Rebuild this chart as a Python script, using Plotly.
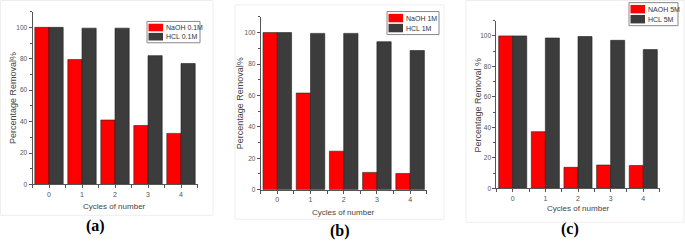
import plotly.graph_objects as go

W, H = 685, 246

cycles = [0, 1, 2, 3, 4]
naoh_01 = [100, 79.5, 41, 37.5, 32.5]
hcl_01 = [100, 99.5, 99.5, 82, 77]
naoh_1 = [100, 61.5, 24.5, 11, 10.3]
hcl_1 = [100, 99.5, 99.5, 94.2, 88.6]
naoh_5 = [100, 37.2, 13.8, 15.3, 15]
hcl_5 = [100, 98.6, 99.6, 97.1, 91]

names = [("NaOH 0.1M", "HCL 0.1M"), ("NaOH 1M", "HCL 1M"), ("NAOH 5M", "HCL 5M")]
ytitles = ["Percentage Removal%", "Percentage Removal%", "Percentage Removal %"]
xtitle = "Cycles of number"
panel_labels = ["(a)", "(b)", "(c)"]
yticks = [0, 20, 40, 60, 80, 100]

RED = "#ff0000"
DARK = "#3c3c3c"
FONT = "Liberation Sans, Arial, sans-serif"

# panel geometry in page pixels: (x_left, x_right, y_bottom, y_top)
geo = [(32.5, 197.5, 186.7, 11.8), (260.7, 426.7, 192.0, 17.1), (496.4, 659.6, 190.7, 20.9)]
legend_box = [(147, 200, 21.7, 43.3), (387, 439, 11.7, 35), (629, 678, 2.7, 26)]
panel_box = [(0.5, 213, 0.5, 218), (235, 444, 5, 222), (466, 684, 0.5, 225)]
label_pos = [(95, 229), (340, 234), (570, 232)]
xtitle_y = [209, 215, 211]
ytitle_x = [13, 240, 478]

fig = go.Figure()
data = [(naoh_01, hcl_01), (naoh_1, hcl_1), (naoh_5, hcl_5)]
shapes = []
anns = []


def px(x):
    return x / W


def py(y):
    return 1 - y / H


def note(text, x, y, size, color, family=FONT, xanchor="center", angle=0):
    anns.append(dict(text=text, x=px(x), y=py(y), xref="paper", yref="paper", xanchor=xanchor,
                     yanchor="middle", textangle=angle, showarrow=False,
                     font=dict(size=size, color=color, family=family)))


for i, ((n, h), (nm1, nm2)) in enumerate(zip(data, names)):
    sfx = "" if i == 0 else str(i + 1)
    fig.add_trace(go.Bar(x=cycles, y=n, name=nm1, marker=dict(color=RED, line=dict(color="#222", width=0.6)),
                         xaxis="x" + sfx, yaxis="y" + sfx, showlegend=False, offsetgroup="a"))
    fig.add_trace(go.Bar(x=cycles, y=h, name=nm2, marker=dict(color=DARK, line=dict(color="#222", width=0.6)),
                         xaxis="x" + sfx, yaxis="y" + sfx, showlegend=False, offsetgroup="b"))
    xl, xr, yb, yt = geo[i]
    ax = dict(domain=[px(xl), px(xr)], range=[-0.5, 4.5], anchor="y" + sfx, showline=True, linecolor="#555",
              linewidth=1, ticks="outside", ticklen=3, tickcolor="#555", tickvals=cycles,
              tickfont=dict(size=7, color="#555", family=FONT), showgrid=False, zeroline=False,
              minor=dict(tickvals=[-0.5, 0.5, 1.5, 2.5, 3.5, 4.5], ticks="outside", ticklen=3, tickcolor="#555"))
    ay = dict(domain=[py(yb), py(yt)], range=[0, 110], anchor="x" + sfx, showline=True, linecolor="#555",
              linewidth=1, ticks="outside", ticklen=3, tickcolor="#555", tickvals=yticks,
              tickfont=dict(size=6.5, color="#555", family=FONT), showgrid=False, zeroline=False,
              minor=dict(dtick=10, ticks="outside", ticklen=2, tickcolor="#555"))
    fig.layout["xaxis" + sfx] = ax
    fig.layout["yaxis" + sfx] = ay
    # axis titles and panel label
    note(ytitles[i], ytitle_x[i], (yb + yt) / 2, 9, "#444", angle=-90)
    note(xtitle, (xl + xr) / 2, xtitle_y[i], 8, "#444")
    note("<b>" + panel_labels[i] + "</b>", label_pos[i][0], label_pos[i][1], 16, "#000",
         family="Liberation Serif, Times New Roman, serif")
    # legend drawn manually, names/colours taken from the series
    lx0, lx1, ly0, ly1 = legend_box[i]
    shapes.append(dict(type="rect", xref="paper", yref="paper", x0=px(lx0), x1=px(lx1), y0=py(ly1), y1=py(ly0),
                       line=dict(color="#888", width=1), fillcolor="white"))
    hh = (ly1 - ly0 - 3) / 2
    for k, (col, nm) in enumerate([(RED, nm1), (DARK, nm2)]):
        y0 = ly0 + 1.5 + k * hh
        shapes.append(dict(type="rect", xref="paper", yref="paper", x0=px(lx0 + 1.5), x1=px(lx0 + 16),
                           y0=py(y0 + hh - 0.8), y1=py(y0 + 0.8), line=dict(width=0), fillcolor=col))
        note(nm, lx0 + 17, y0 + hh / 2, 7, "#333", xanchor="left")
    # faint panel frame
    bx0, bx1, by0, by1 = panel_box[i]
    shapes.append(dict(type="rect", xref="paper", yref="paper", x0=px(bx0), x1=px(bx1), y0=py(by1), y1=py(by0),
                       line=dict(color="#eeeeee", width=1), layer="below"))

fig.update_layout(width=W, height=H, margin=dict(l=0, r=0, t=0, b=0), paper_bgcolor="white",
                  plot_bgcolor="white", barmode="group", bargap=0.14, bargroupgap=0,
                  shapes=shapes, annotations=anns, font=dict(family=FONT), hovermode=False)
fig.write_html("out.html", config={"displayModeBar": False, "staticPlot": True},
               post_script="document.body.style.margin='0';document.body.style.overflow='hidden';")
